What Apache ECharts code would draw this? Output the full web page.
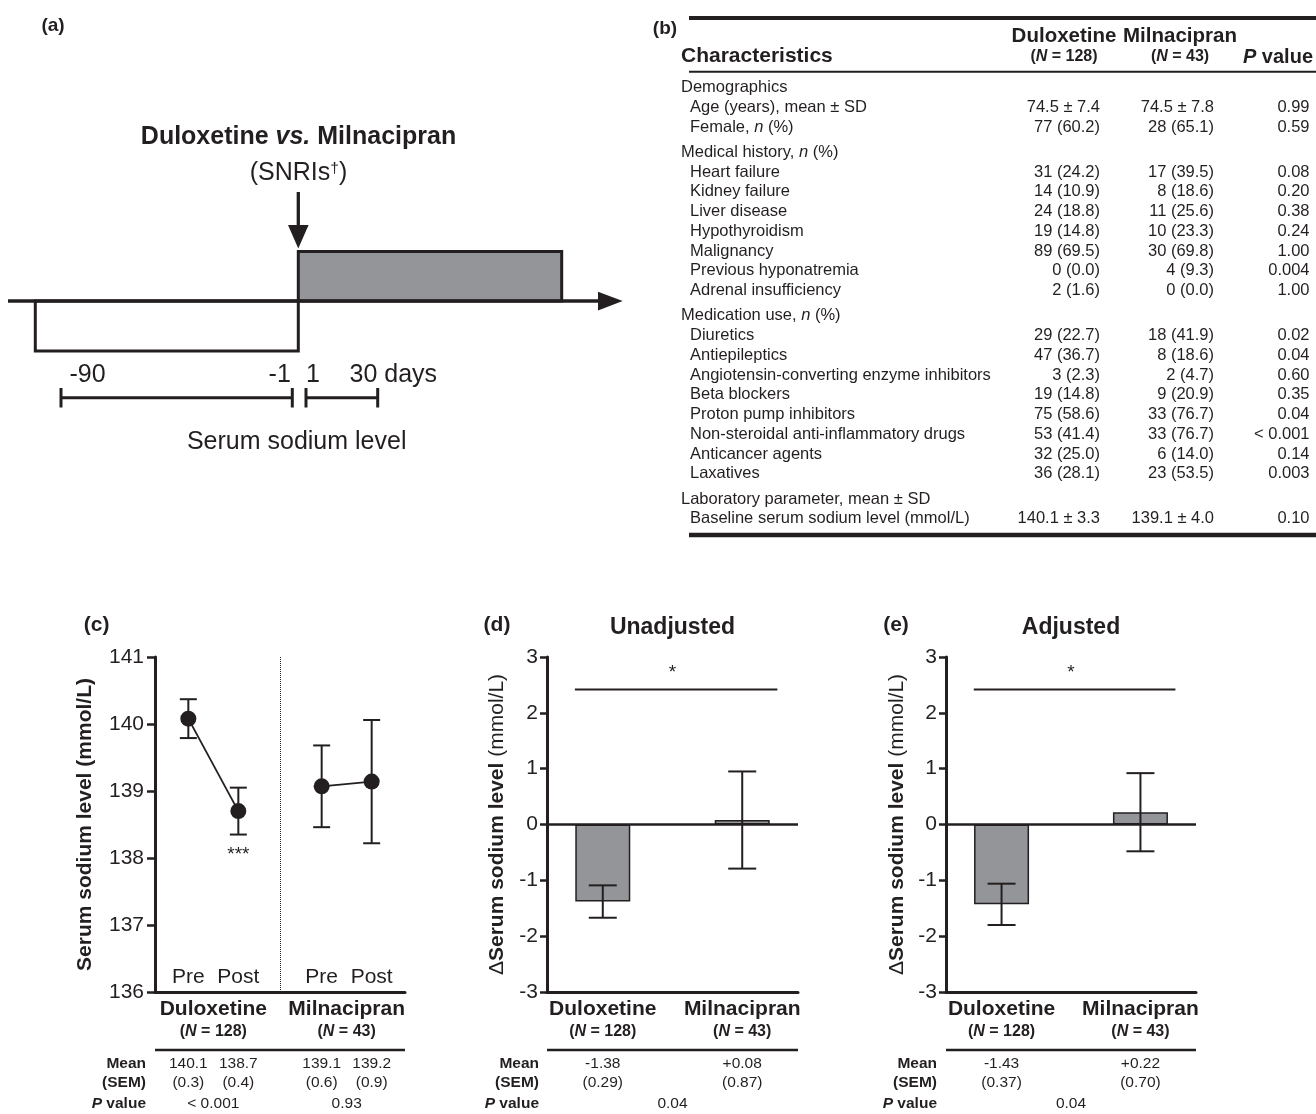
<!DOCTYPE html>
<html><head><meta charset="utf-8">
<script src="https://cdn.jsdelivr.net/npm/echarts@6/dist/echarts.min.js"></script>
<style>html,body{margin:0;padding:0;background:#fff}#c{width:1316px;height:1114px}</style>
</head><body><div id="c"></div>
<script>
// ================= DATA =================
// panel (a)
const aTitle = ['Duloxetine ', 'vs.', ' Milnacipran'];
const aSub = 'SNRIs';
const aDayLabels = ['-90', '-1', '1', '30 days'];
const aCaption = 'Serum sodium level';

// panel (b) table
const bHeadCols = ['Duloxetine', 'Milnacipran'];
const bHeadN = ['128', '43'];
const bSections = ['Demographics', 'Medical history, {i|n} (%)', 'Medication use, {i|n} (%)', 'Laboratory parameter, mean ± SD'];
const bRowSection = [0, 0, 1, 1, 1, 1, 1, 1, 1, 2, 2, 2, 2, 2, 2, 2, 2, 3];
const bRowLabels = ['Age (years), mean ± SD', 'Female, {i|n} (%)', 'Heart failure', 'Kidney failure', 'Liver disease',
  'Hypothyroidism', 'Malignancy', 'Previous hyponatremia', 'Adrenal insufficiency', 'Diuretics', 'Antiepileptics',
  'Angiotensin-converting enzyme inhibitors', 'Beta blockers', 'Proton pump inhibitors',
  'Non-steroidal anti-inflammatory drugs', 'Anticancer agents', 'Laxatives', 'Baseline serum sodium level (mmol/L)'];
const bDulox = ['74.5 ± 7.4', '77 (60.2)', '31 (24.2)', '14 (10.9)', '24 (18.8)', '19 (14.8)', '89 (69.5)', '0 (0.0)',
  '2 (1.6)', '29 (22.7)', '47 (36.7)', '3 (2.3)', '19 (14.8)', '75 (58.6)', '53 (41.4)', '32 (25.0)', '36 (28.1)', '140.1 ± 3.3'];
const bMilna = ['74.5 ± 7.8', '28 (65.1)', '17 (39.5)', '8 (18.6)', '11 (25.6)', '10 (23.3)', '30 (69.8)', '4 (9.3)',
  '0 (0.0)', '18 (41.9)', '8 (18.6)', '2 (4.7)', '9 (20.9)', '33 (76.7)', '33 (76.7)', '6 (14.0)', '23 (53.5)', '139.1 ± 4.0'];
const bP = ['0.99', '0.59', '0.08', '0.20', '0.38', '0.24', '1.00', '0.004', '1.00', '0.02', '0.04', '0.60', '0.35',
  '0.04', '< 0.001', '0.14', '0.003', '0.10'];

// panel (c)
const groups = ['Duloxetine', 'Milnacipran'];
const groupN = ['128', '43'];
const cTimes = ['Pre', 'Post'];
const cDuloxMean = [140.08, 138.70];
const cDuloxSem = [0.29, 0.35];
const cMilnaMean = [139.07, 139.14];
const cMilnaSem = [0.61, 0.92];
const cTabMean = ['140.1', '138.7', '139.1', '139.2'];
const cTabSem = ['(0.3)', '(0.4)', '(0.6)', '(0.9)'];
const cTabP = ['< 0.001', '0.93'];
const cStars = '***';

// panel (d) unadjusted
const dTitle = 'Unadjusted';
const dMean = [-1.38, 0.08];
const dSem = [0.29, 0.87];
const dTabMean = ['-1.38', '+0.08'];
const dTabSem = ['(0.29)', '(0.87)'];
const dP = '0.04';

// panel (e) adjusted
const eTitle = 'Adjusted';
const eMean = [-1.43, 0.22];
const eSem = [0.37, 0.70];
const eTabMean = ['-1.43', '+0.22'];
const eTabSem = ['(0.37)', '(0.70)'];
const eP = '0.04';

const sigLevel = 2.42;
const sigText = '*';

// ================= LAYOUT / STYLE =================
const INK = '#231f20';
const GRAY = '#939598';
const FF = '"Liberation Sans", Arial, Helvetica, sans-serif';
const cXPos = [1, 2.5, 5, 6.5];     // x positions on panel (c) axis [0, 7.5]
const barXPos = [1, 3.5];           // x positions on panels (d),(e) axis [0, 4.5]
const sigSpan = [0.5, 4.13];
const GT = 657, GH = 335;
const grids = [
  {left: 155, top: GT, width: 250, height: GH},
  {left: 547, top: GT, width: 251, height: GH},
  {left: 946, top: GT, width: 250, height: GH}
];

function rs(fs, bold) {
  const base = {fontSize: fs, fontFamily: FF, fill: INK, color: INK};
  return {
    i: Object.assign({}, base, {fontStyle: 'italic', fontWeight: bold ? 'bold' : 'normal'}),
    b: Object.assign({}, base, {fontWeight: 'bold'}),
    n: Object.assign({}, base, {fontWeight: 'normal'}),
    d: Object.assign({}, base, {fontWeight: 'normal'}),
    sup: Object.assign({}, base, {fontSize: fs * 0.62, verticalAlign: 'top', fontWeight: 'normal'})
  };
}

function xAx(gi, max) {
  return {gridIndex: gi, type: 'value', min: 0, max: max,
    axisLine: {show: true, onZero: false, lineStyle: {color: INK, width: 3}},
    axisTick: {show: false}, axisLabel: {show: false}, splitLine: {show: false}};
}
function yAx(gi, min, max, name, gap, tickLen, margin) {
  return {gridIndex: gi, type: 'value', min: min, max: max, interval: 1,
    axisLine: {show: true, onZero: false, lineStyle: {color: INK, width: 3}},
    axisTick: {show: true, length: tickLen, lineStyle: {color: INK, width: 2.5}},
    axisLabel: {color: INK, fontSize: 21, fontFamily: FF, margin: margin},
    splitLine: {show: false},
    name: name, nameLocation: 'middle', nameGap: gap,
    nameTextStyle: {color: INK, fontSize: 21, fontFamily: FF, fontWeight: 'bold', rich: rs(21, true)}};
}

function errRender(capW) {
  return function (params, api) {
    const x = api.value(0), m = api.value(1), e = api.value(2);
    const t = api.coord([x, m + e]), b = api.coord([x, m - e]);
    const st = {stroke: INK, lineWidth: 2, fill: null};
    return {type: 'group', children: [
      {type: 'line', shape: {x1: t[0], y1: t[1], x2: b[0], y2: b[1]}, style: st},
      {type: 'line', shape: {x1: t[0] - capW / 2, y1: t[1], x2: t[0] + capW / 2, y2: t[1]}, style: st},
      {type: 'line', shape: {x1: b[0] - capW / 2, y1: b[1], x2: b[0] + capW / 2, y2: b[1]}, style: st}
    ]};
  };
}

const zeroLine = {silent: true, symbol: ['none', 'none'], label: {show: false},
  lineStyle: {color: INK, width: 2.5, type: 'solid'}, data: [{yAxis: 0}]};

const option = {
  animation: false,
  grid: grids.map(g => Object.assign({outerBoundsMode: 'none', containLabel: false}, g)),
  xAxis: [xAx(0, 7.5), xAx(1, 4.5), xAx(2, 4.5)],
  yAxis: [
    yAx(0, 136, 141, 'Serum sodium level (mmol/L)', 59, 8, 11),
    yAx(1, -3, 3, '{d|Δ}{b|Serum sodium level} {n|(mmol/L)}', 39, 7, 9),
    yAx(2, -3, 3, '{d|Δ}{b|Serum sodium level} {n|(mmol/L)}', 38, 7, 9)
  ],
  series: [
    {type: 'line', xAxisIndex: 0, yAxisIndex: 0, z: 4,
      data: cDuloxMean.map((v, i) => [cXPos[i], v]),
      symbol: 'circle', symbolSize: 16, itemStyle: {color: INK}, lineStyle: {color: INK, width: 1.8},
      markLine: {silent: true, symbol: ['none', 'none'], label: {show: false},
        lineStyle: {color: INK, width: 1, type: 'dotted'}, data: [{xAxis: 3.75}]}},
    {type: 'line', xAxisIndex: 0, yAxisIndex: 0, z: 4,
      data: cMilnaMean.map((v, i) => [cXPos[i + 2], v]),
      symbol: 'circle', symbolSize: 16, itemStyle: {color: INK}, lineStyle: {color: INK, width: 1.8}},
    {type: 'custom', xAxisIndex: 0, yAxisIndex: 0, z: 3, renderItem: errRender(17),
      data: cDuloxMean.concat(cMilnaMean).map((v, i) => [cXPos[i], v, cDuloxSem.concat(cMilnaSem)[i]])},
    {type: 'bar', xAxisIndex: 1, yAxisIndex: 1, barWidth: 55, z: 2,
      data: dMean.map((v, i) => [barXPos[i], v]),
      itemStyle: {color: GRAY, borderColor: INK, borderWidth: 1.5}, markLine: zeroLine},
    {type: 'custom', xAxisIndex: 1, yAxisIndex: 1, z: 5, renderItem: errRender(28),
      data: dMean.map((v, i) => [barXPos[i], v, dSem[i]])},
    {type: 'bar', xAxisIndex: 2, yAxisIndex: 2, barWidth: 55, z: 2,
      data: eMean.map((v, i) => [barXPos[i], v]),
      itemStyle: {color: GRAY, borderColor: INK, borderWidth: 1.5}, markLine: zeroLine},
    {type: 'custom', xAxisIndex: 2, yAxisIndex: 2, z: 5, renderItem: errRender(28),
      data: eMean.map((v, i) => [barXPos[i], v, eSem[i]])}
  ]
};

const chart = echarts.init(document.getElementById('c'));
chart.setOption(option);

// ================= OVERLAY GRAPHICS =================
const G = [];
function txt(x, y, text, o) {
  o = o || {};
  const fs = o.size || 16;
  const al = o.align || 'center';
  const style = {text: text, x: 0, y: 0, fill: INK, fontSize: fs, fontFamily: FF,
    fontWeight: o.bold ? 'bold' : 'normal', fontStyle: o.italic ? 'italic' : 'normal',
    align: al, textAlign: al, verticalAlign: 'middle', textVerticalAlign: 'middle',
    rich: rs(fs, !!o.bold)};
  G.push({type: 'text', x: x, y: y, silent: true, z: 10, style: style});
}
function line(x1, y1, x2, y2, w) {
  G.push({type: 'line', silent: true, z: 9, shape: {x1, y1, x2, y2}, style: {stroke: INK, lineWidth: w, lineCap: 'butt'}});
}

// ---- panel (a)
txt(53, 26, '(a)', {size: 19, bold: true});
txt(298.5, 137, '{b|' + aTitle[0] + '}{i|' + aTitle[1] + '}{b|' + aTitle[2] + '}', {size: 25, bold: true});
txt(298.5, 173, '(' + aSub + '{sup|†})', {size: 25});
G.push({type: 'rect', silent: true, z: 8, shape: {x: 298.3, y: 251.5, width: 263.4, height: 49.5},
  style: {fill: GRAY, stroke: INK, lineWidth: 3}});
G.push({type: 'rect', silent: true, z: 8, shape: {x: 35.3, y: 301, width: 263, height: 50},
  style: {fill: '#ffffff', stroke: INK, lineWidth: 3}});
line(8, 301, 602, 301, 3.3);
G.push({type: 'polygon', silent: true, z: 9, shape: {points: [[598, 291.7], [622.7, 301], [598, 310.5]]}, style: {fill: INK}});
line(298.3, 192, 298.3, 230, 3.3);
G.push({type: 'polygon', silent: true, z: 9, shape: {points: [[288, 225], [308.6, 225], [298.3, 248.5]]}, style: {fill: INK}});
const aLabX = [87.5, 279.7, 313, 393.3];
aDayLabels.forEach((t, i) => txt(aLabX[i], 375, t, {size: 25}));
line(61, 397.7, 292.3, 397.7, 3); line(61, 388, 61, 407.5, 3); line(292.3, 388, 292.3, 407.5, 3);
line(306, 397.7, 377.7, 397.7, 3); line(306, 388, 306, 407.5, 3); line(377.7, 388, 377.7, 407.5, 3);
txt(296.7, 441.7, aCaption, {size: 25});

// ---- panel (b)
txt(665, 29, '(b)', {size: 19, bold: true});
line(689, 18, 1316, 18, 4);
line(689, 71.7, 1316, 71.7, 2);
line(689, 535, 1316, 535, 4.5);
const bColX = [1064, 1180];
bHeadCols.forEach((t, i) => txt(bColX[i], 36.7, t, {size: 20.5, bold: true}));
bHeadN.forEach((n, i) => txt(bColX[i], 57, '({i|N} = ' + n + ')', {size: 16, bold: true}));
txt(681, 56.7, 'Characteristics', {size: 21, bold: true, align: 'left'});
txt(1313, 57, '{i|P} value', {size: 20, bold: true, align: 'right'});
{
  let y = 87.5, lastSec = -1;
  const step = 19.75, gap = 5.5;
  bRowLabels.forEach((lab, i) => {
    const s = bRowSection[i];
    if (s !== lastSec) {
      if (lastSec !== -1) y += step + gap;
      txt(681, y, bSections[s], {size: 16.5, align: 'left'});
      lastSec = s;
    }
    y += step;
    txt(690, y, lab, {size: 16.5, align: 'left'});
    txt(1100, y, bDulox[i], {size: 16.5, align: 'right'});
    txt(1214, y, bMilna[i], {size: 16.5, align: 'right'});
    txt(1309.5, y, bP[i], {size: 16.5, align: 'right'});
  });
}

// ---- panels (c)-(e)
const px = (ax, v) => chart.convertToPixel({xAxisIndex: ax}, v);
const py = (ax, v) => chart.convertToPixel({yAxisIndex: ax}, v);
const gBottom = GT + GH;

function lowerTable(ax, g, groupX, meanX, means, sems, pX, ps, labelRight) {
  groups.forEach((t, i) => {
    txt(groupX[i], 1009, t, {size: 21, bold: true});
    txt(groupX[i], 1031.5, '({i|N} = ' + groupN[i] + ')', {size: 16, bold: true});
  });
  line(g.left, 1050, g.left + g.width, 1050, 2.5);
  txt(labelRight, 1063.3, 'Mean', {size: 15.5, bold: true, align: 'right'});
  txt(labelRight, 1082.7, '(SEM)', {size: 15.5, bold: true, align: 'right'});
  txt(labelRight, 1103.3, '{i|P} value', {size: 15.5, bold: true, align: 'right'});
  means.forEach((t, i) => {
    txt(meanX[i], 1063.3, t, {size: 15.5});
    txt(meanX[i], 1082.7, sems[i], {size: 15.5});
  });
  ps.forEach((t, i) => txt(pX[i], 1103.3, t, {size: 15.5}));
}

// (c)
{
  const g = grids[0];
  const xs = cXPos.map(v => px(0, v));
  txt(96.7, 625, '(c)', {size: 21, bold: true});
  xs.forEach((x, i) => txt(x, gBottom - 15, cTimes[i % 2], {size: 21}));
  const starY = py(0, cDuloxMean[1] - cDuloxSem[1]) + 20;
  txt(xs[1], starY, cStars, {size: 19});
  const gx = [(xs[0] + xs[1]) / 2, (xs[2] + xs[3]) / 2];
  lowerTable(0, g, gx, xs, cTabMean, cTabSem, gx, cTabP, 146);
}
// (d), (e)
[[1, '(d)', dTitle, dTabMean, dTabSem, dP, 497, 539], [2, '(e)', eTitle, eTabMean, eTabSem, eP, 896, 937]].forEach(p => {
  const ax = p[0], g = grids[ax];
  const xs = barXPos.map(v => px(ax, v));
  txt(p[6], 625, p[1], {size: 21, bold: true});
  const mid = (xs[0] + xs[1]) / 2;
  txt(mid, 628, p[2], {size: 23, bold: true});
  const sy = py(ax, sigLevel);
  line(px(ax, sigSpan[0]), sy, px(ax, sigSpan[1]), sy, 2);
  txt(mid, sy - 17, sigText, {size: 19});
  lowerTable(ax, g, xs, xs, p[3], p[4], [mid], [p[5]], p[7]);
});

chart.setOption({graphic: {elements: G}});
</script></body></html>
